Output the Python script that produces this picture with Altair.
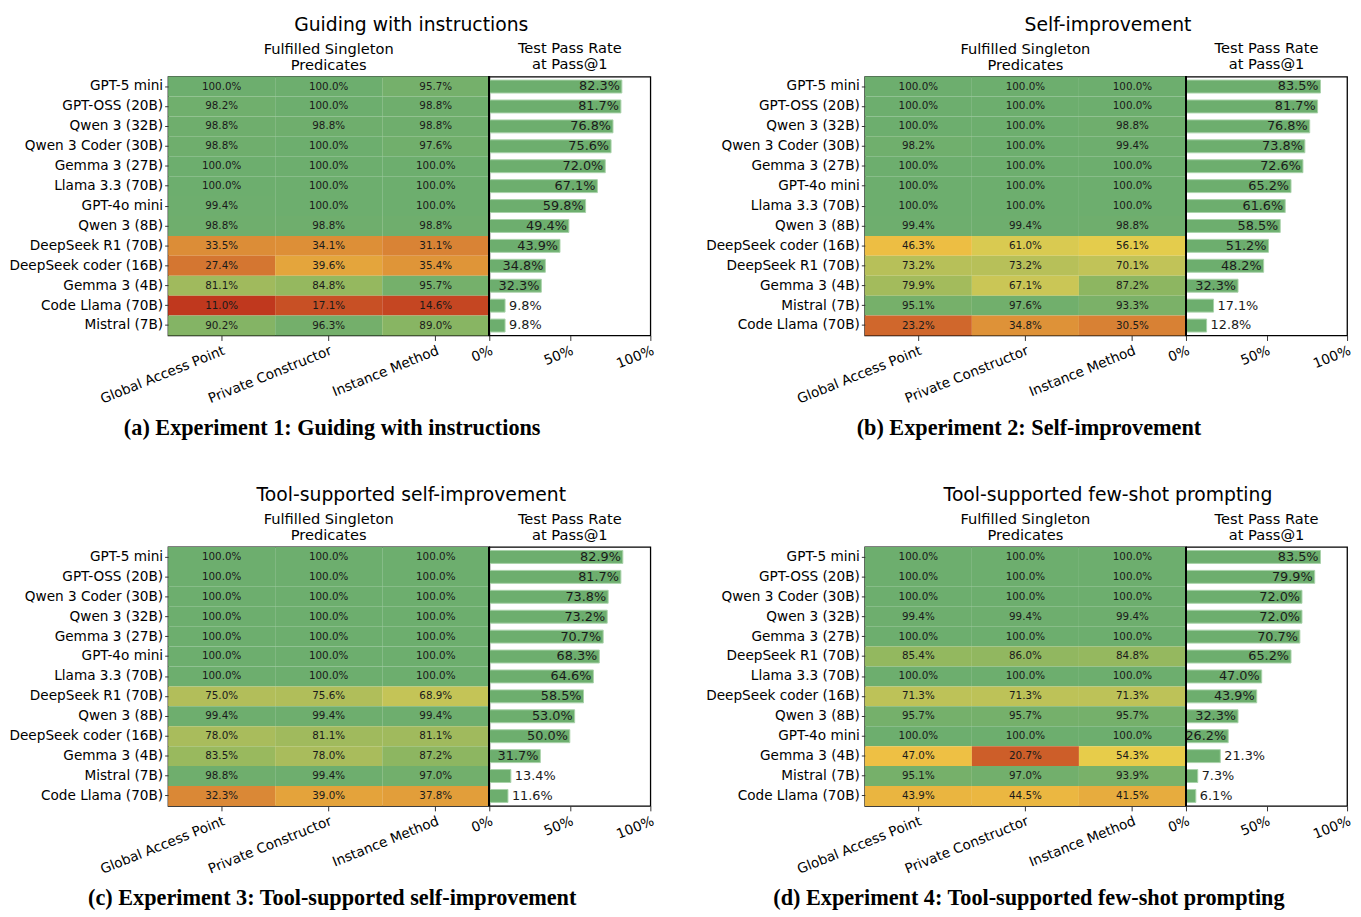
import altair as alt
import pandas as pd

COLS = ["Global Access Point", "Private Constructor", "Instance Method"]

# (a) Guiding with instructions
MODELS_A = ["GPT-5 mini", "GPT-OSS (20B)", "Qwen 3 (32B)", "Qwen 3 Coder (30B)", "Gemma 3 (27B)",
            "Llama 3.3 (70B)", "GPT-4o mini", "Qwen 3 (8B)", "DeepSeek R1 (70B)", "DeepSeek coder (16B)",
            "Gemma 3 (4B)", "Code Llama (70B)", "Mistral (7B)"]
GAP_A = [100.0, 98.2, 98.8, 98.8, 100.0, 100.0, 99.4, 98.8, 33.5, 27.4, 81.1, 11.0, 90.2]
PC_A = [100.0, 100.0, 98.8, 100.0, 100.0, 100.0, 100.0, 98.8, 34.1, 39.6, 84.8, 17.1, 96.3]
IM_A = [95.7, 98.8, 98.8, 97.6, 100.0, 100.0, 100.0, 98.8, 31.1, 35.4, 95.7, 14.6, 89.0]
PASS_A = [82.3, 81.7, 76.8, 75.6, 72.0, 67.1, 59.8, 49.4, 43.9, 34.8, 32.3, 9.8, 9.8]

# (b) Self-improvement
MODELS_B = ["GPT-5 mini", "GPT-OSS (20B)", "Qwen 3 (32B)", "Qwen 3 Coder (30B)", "Gemma 3 (27B)",
            "GPT-4o mini", "Llama 3.3 (70B)", "Qwen 3 (8B)", "DeepSeek coder (16B)", "DeepSeek R1 (70B)",
            "Gemma 3 (4B)", "Mistral (7B)", "Code Llama (70B)"]
GAP_B = [100.0, 100.0, 100.0, 98.2, 100.0, 100.0, 100.0, 99.4, 46.3, 73.2, 79.9, 95.1, 23.2]
PC_B = [100.0, 100.0, 100.0, 100.0, 100.0, 100.0, 100.0, 99.4, 61.0, 73.2, 67.1, 97.6, 34.8]
IM_B = [100.0, 100.0, 98.8, 99.4, 100.0, 100.0, 100.0, 98.8, 56.1, 70.1, 87.2, 93.3, 30.5]
PASS_B = [83.5, 81.7, 76.8, 73.8, 72.6, 65.2, 61.6, 58.5, 51.2, 48.2, 32.3, 17.1, 12.8]

# (c) Tool-supported self-improvement
MODELS_C = ["GPT-5 mini", "GPT-OSS (20B)", "Qwen 3 Coder (30B)", "Qwen 3 (32B)", "Gemma 3 (27B)",
            "GPT-4o mini", "Llama 3.3 (70B)", "DeepSeek R1 (70B)", "Qwen 3 (8B)", "DeepSeek coder (16B)",
            "Gemma 3 (4B)", "Mistral (7B)", "Code Llama (70B)"]
GAP_C = [100.0, 100.0, 100.0, 100.0, 100.0, 100.0, 100.0, 75.0, 99.4, 78.0, 83.5, 98.8, 32.3]
PC_C = [100.0, 100.0, 100.0, 100.0, 100.0, 100.0, 100.0, 75.6, 99.4, 81.1, 78.0, 99.4, 39.0]
IM_C = [100.0, 100.0, 100.0, 100.0, 100.0, 100.0, 100.0, 68.9, 99.4, 81.1, 87.2, 97.0, 37.8]
PASS_C = [82.9, 81.7, 73.8, 73.2, 70.7, 68.3, 64.6, 58.5, 53.0, 50.0, 31.7, 13.4, 11.6]

# (d) Tool-supported few-shot prompting
MODELS_D = ["GPT-5 mini", "GPT-OSS (20B)", "Qwen 3 Coder (30B)", "Qwen 3 (32B)", "Gemma 3 (27B)",
            "DeepSeek R1 (70B)", "Llama 3.3 (70B)", "DeepSeek coder (16B)", "Qwen 3 (8B)", "GPT-4o mini",
            "Gemma 3 (4B)", "Mistral (7B)", "Code Llama (70B)"]
GAP_D = [100.0, 100.0, 100.0, 99.4, 100.0, 85.4, 100.0, 71.3, 95.7, 100.0, 47.0, 95.1, 43.9]
PC_D = [100.0, 100.0, 100.0, 99.4, 100.0, 86.0, 100.0, 71.3, 95.7, 100.0, 20.7, 97.0, 44.5]
IM_D = [100.0, 100.0, 100.0, 99.4, 100.0, 84.8, 100.0, 71.3, 95.7, 100.0, 54.3, 93.9, 41.5]
PASS_D = [83.5, 79.9, 72.0, 72.0, 70.7, 65.2, 47.0, 43.9, 32.3, 26.2, 21.3, 7.3, 6.1]

COLOR_STOPS = [0, 11, 20, 30, 40, 47, 55, 65, 75, 85, 95, 100]
COLOR_RANGE = ["#b8281c", "#c0381e", "#cc5c28", "#d77f34", "#e5a73c", "#eec044", "#e6cd4b",
               "#d0c855", "#b2be5a", "#94b85f", "#76b06a", "#6dae6e"]
BAR_COLOR = "#6dae6e"

FONT = "DejaVu Sans"
HW, BW, H = 325, 163, 262
LBL = 13.8


def axis_style(**kw):
    return alt.Axis(domain=False, labelFontSize=LBL, labelFont=FONT, labelColor="black",
                    tickColor="#333333", **kw)


def panel(models, gap, pc, im, pas, title, caption):
    rows = []
    for i, m in enumerate(models):
        for c, vals in zip(COLS, [gap, pc, im]):
            rows.append({"model": m, "crit": c, "v": vals[i], "lab": f"{vals[i]:.1f}%"})
    hdf = pd.DataFrame(rows)
    bdf = pd.DataFrame({"model": models, "p": pas, "lab": [f"{v:.1f}%" for v in pas]})

    cscale = alt.Scale(domain=COLOR_STOPS, range=COLOR_RANGE, interpolate="rgb")
    base = alt.Chart(hdf).encode(
        x=alt.X("crit:N", sort=COLS, title=None,
                axis=axis_style(labelAngle=-22, labelAlign="right", labelBaseline="top",
                                tickSize=5, labelPadding=3)),
        y=alt.Y("model:N", sort=models, title=None,
                axis=axis_style(tickSize=3.5, labelPadding=2)),
    )
    rect = base.mark_rect().encode(color=alt.Color("v:Q", scale=cscale, legend=None))
    txt = base.mark_text(fontSize=10.5, color="#1a1a1a", font=FONT).encode(text="lab:N")
    heat = (rect + txt).properties(
        width=HW, height=H,
        title=alt.TitleParams(["Fulfilled Singleton", "Predicates"], fontSize=14.8, fontWeight="normal",
                              font=FONT, lineHeight=16, offset=4, anchor="middle", color="black"))

    bbase = alt.Chart(bdf).encode(
        y=alt.Y("model:N", sort=models, title=None, axis=None,
                scale=alt.Scale(paddingInner=0.35, paddingOuter=0.175)),
        x=alt.X("p:Q", title=None, scale=alt.Scale(domain=[0, 100], nice=False),
                axis=axis_style(values=[0, 50, 100], labelExpr="datum.value + '%'", labelAngle=-22,
                                labelAlign="right", labelBaseline="top", tickSize=5, labelPadding=3,
                                grid=False)),
    )
    bars = bbase.mark_bar(color=BAR_COLOR, stroke="#a9d2aa", strokeWidth=1)
    tin = bbase.transform_filter("datum.p >= 25").mark_text(
        align="right", dx=-2, fontSize=13, color="#1a1a1a", font=FONT).encode(text="lab:N")
    tout = bbase.transform_filter("datum.p < 25").mark_text(
        align="left", dx=4, fontSize=13, color="#1a1a1a", font=FONT).encode(text="lab:N")
    edge = alt.Chart(bdf).mark_rule(color="black", strokeWidth=1.3).encode(x=alt.datum(0))
    bar = (bars + tin + tout + edge).properties(
        width=BW, height=H,
        title=alt.TitleParams(["Test Pass Rate", "at Pass@1"], fontSize=14.8, fontWeight="normal",
                              font=FONT, lineHeight=16, offset=4, anchor="middle", color="black"))

    p = alt.hconcat(heat, bar, spacing=0, bounds="flush").properties(
        title=alt.TitleParams(title, fontSize=19, fontWeight="normal", font=FONT, anchor="middle",
                              dx=80, offset=6, color="black"))
    return alt.vconcat(p).properties(
        title=alt.TitleParams(caption, orient="bottom", font="Liberation Serif", fontWeight="bold",
                              fontSize=22.5, anchor="middle", offset=11, color="black"))


pa = panel(MODELS_A, GAP_A, PC_A, IM_A, PASS_A, "Guiding with instructions",
           "(a) Experiment 1: Guiding with instructions")
pb = panel(MODELS_B, GAP_B, PC_B, IM_B, PASS_B, "Self-improvement",
           "(b) Experiment 2: Self-improvement")
pc = panel(MODELS_C, GAP_C, PC_C, IM_C, PASS_C, "Tool-supported self-improvement",
           "(c) Experiment 3: Tool-supported self-improvement")
pd_ = panel(MODELS_D, GAP_D, PC_D, IM_D, PASS_D, "Tool-supported few-shot prompting",
            "(d) Experiment 4: Tool-supported few-shot prompting")

chart = alt.vconcat(
    alt.hconcat(pa, pb, spacing=49),
    alt.hconcat(pc, pd_, spacing=49),
    spacing=46,
).properties(padding={"top": 2, "left": 0, "right": 0, "bottom": 0},
             background="white").configure_view(stroke="black", strokeWidth=1.3)

chart.save("out.html", embed_options={"renderer": "svg", "actions": False})
